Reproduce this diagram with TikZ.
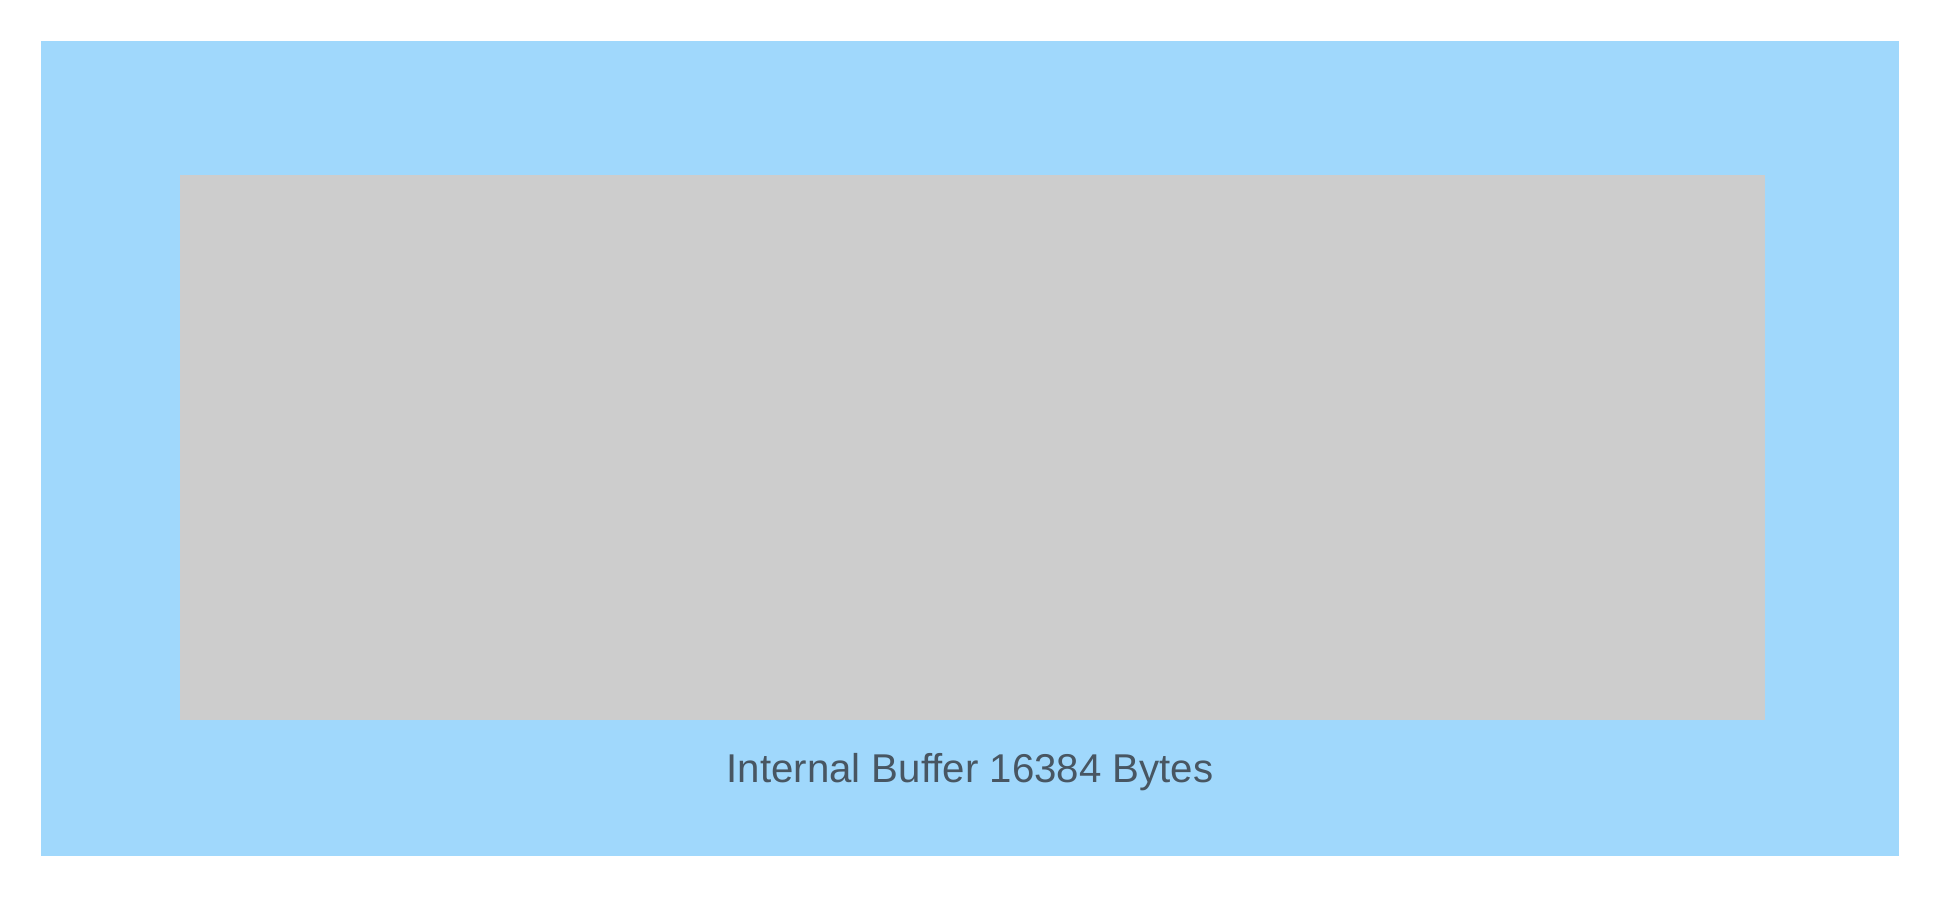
\documentclass[tikz,border=0pt]{standalone}
\usepackage{fontspec}
\setmainfont{Liberation Sans}
\definecolor{outerblue}{RGB}{160,216,252}
\definecolor{innergray}{RGB}{205,205,205}
\definecolor{labelgray}{RGB}{72,86,98}
\begin{document}
\begin{tikzpicture}[x=1pt,y=-1pt,
  outerbox/.style={fill=outerblue,draw=none},
  innerbox/.style={fill=innergray,draw=none},
  lbl/.style={text=labelgray,font=\fontsize{40.2}{48}\selectfont,inner sep=0pt,anchor=base}]
\useasboundingbox (0,0) rectangle (1940,900);
\fill[white] (0,0) rectangle (1940,900);
\path[outerbox] (41,41) rectangle (1899,856);
\node[innerbox,minimum width=1585pt,minimum height=545pt,inner sep=0pt,anchor=north west] (buf) at (180,175) {};
\node[lbl] (label) at (970,782) {Internal Buffer 16384 Bytes};
\end{tikzpicture}
\end{document}
